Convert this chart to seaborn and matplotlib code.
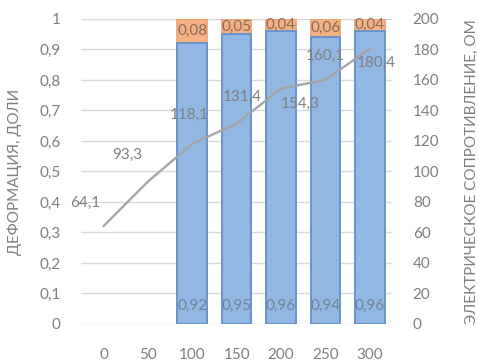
import numpy as np
import pandas as pd
import seaborn as sns
import matplotlib.pyplot as plt

# data
temps = ['0', '50', '100', '150', '200', '250', '300']
deform_main = [np.nan, np.nan, 0.92, 0.95, 0.96, 0.94, 0.96]
deform_top = [np.nan, np.nan, 0.08, 0.05, 0.04, 0.06, 0.04]
resistance = [64.1, 93.3, 118.1, 131.4, 154.3, 160.1, 180.4]
# label offsets for the line values (points)
lab_dx = [-13, -15, -2, 4, 14, 0, 5]
lab_dy = [17, 19, 21, 19, -11, 17, -10]

def fmt(v, d=2):
    return f'{v:.{d}f}'.replace('.', ',')

df = pd.DataFrame({'t': temps, 'main': deform_main, 'top': deform_top,
                   'res': resistance})
df['total'] = df['main'] + df['top']
df['pos'] = range(len(df))

sns.set_style('white')
plt.rcParams['font.family'] = ['Lato', 'DejaVu Sans']
txt = '#7f7f7f'
fs = 11

fig, ax = plt.subplots(figsize=(4.78, 3.64), dpi=100)
fig.subplots_adjust(left=0.17, right=0.82, top=0.948, bottom=0.11)

sns.barplot(data=df, x='t', y='total', order=temps, color='#f4b183',
            saturation=1, width=0.67, edgecolor='#f0a070', linewidth=1.2, ax=ax)
sns.barplot(data=df, x='t', y='main', order=temps, color='#92b7e3',
            saturation=1, width=0.67, edgecolor='#5b8fcf', linewidth=1.2, ax=ax)

ax.set_ylim(0, 1)
ax.set_yticks(np.arange(0, 1.01, 0.1))
ax.set_yticklabels(['0'] + [fmt(v, 1) for v in np.arange(0.1, 0.95, 0.1)] + ['1'])
ax.grid(axis='y', color='#d9d9d9', linewidth=1)
ax.set_axisbelow(True)
ax.set_xlabel('')
ax.set_ylabel('ДЕФОРМАЦИЯ, ДОЛИ', color=txt, fontsize=fs)
ax.yaxis.set_label_coords(-0.19, 0.5)
ax.tick_params(axis='both', colors=txt, labelsize=fs, length=0)
ax.tick_params(axis='x', pad=17)
ax.tick_params(axis='y', pad=15)
ax.set_xlim(-0.5, len(temps) - 0.5)
sns.despine(ax=ax, left=True, bottom=True)

for i, row in df.iterrows():
    if not np.isnan(row['main']):
        ax.text(i, 0.06, fmt(row['main']), ha='center', va='center',
                color='#6f8398', fontsize=fs)
        ax.text(i, row['main'] + row['top'] / 2, fmt(row['top']), ha='center',
                va='center', color='#8a6a5a', fontsize=fs)

ax2 = ax.twinx()
sns.lineplot(data=df, x='pos', y='res', color='#a5a5a5', linewidth=1.7, ax=ax2)
ax2.set_ylim(0, 200)
ax2.set_yticks(np.arange(0, 201, 20))
ax2.set_ylabel('ЭЛЕКТРИЧЕСКОЕ СОПРОТИВЛЕНИЕ, ОМ', color=txt, fontsize=fs)
ax2.yaxis.set_label_coords(1.235, 0.5)
ax2.tick_params(axis='y', colors=txt, labelsize=fs, length=0, pad=15)
sns.despine(ax=ax2, left=True, bottom=True, right=True)

for i, v in enumerate(resistance):
    ax2.annotate(fmt(v, 1), (i, v), xytext=(lab_dx[i], lab_dy[i]),
                 textcoords='offset points', ha='center', va='center',
                 color=txt, fontsize=fs)

fig.savefig('out.png', dpi=100)
